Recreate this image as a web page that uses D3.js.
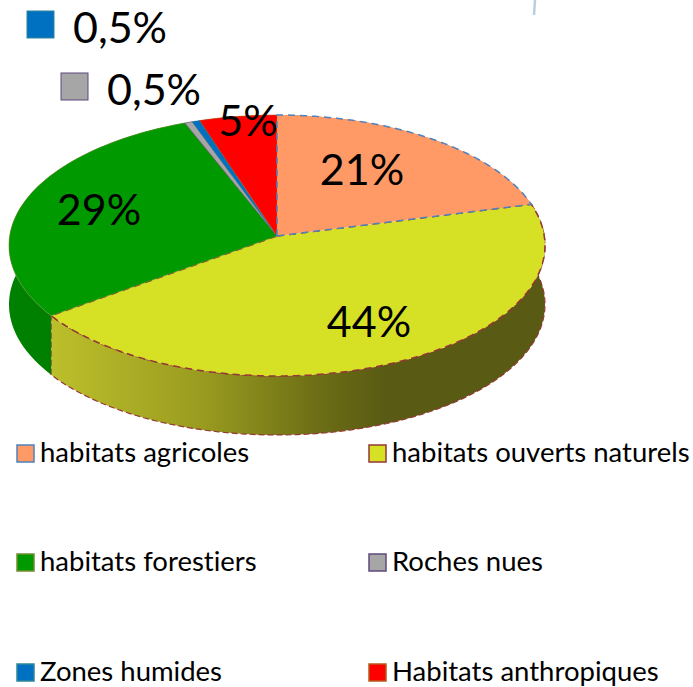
<!DOCTYPE html>
<html>
<head>
<meta charset="utf-8">
<script src="https://cdn.jsdelivr.net/npm/d3@7"></script>
<style>
  html, body { margin: 0; padding: 0; background: #fff; }
  svg { display: block; }
  text { font-family: Lato, "Open Sans", sans-serif; fill: #000; font-variant-ligatures: none; }
</style>
</head>
<body>
<svg id="chart"></svg>
<script>
// Data, in drawing order, clockwise from 12 o'clock
const categories = ["habitats agricoles", "habitats ouverts naturels", "habitats forestiers", "Roches nues", "Zones humides", "Habitats anthropiques"];
const values = [21, 44, 29, 0.5, 0.5, 5];
const valueLabels = ["21%", "44%", "29%", "0,5%", "0,5%", "5%"];
const colors = ["#ff9966", "#d6e125", "#009900", "#a6a6a6", "#0070c0", "#ff0000"];
const edgeColors = ["#4f81bd", "#953735", "#6f8f2f", "#5f497a", "#31859b", "#b85a1f"];
const sideColors = ["#c9764f", "url(#sideYellow)", "#008000", "#808080", "#005a9a", "#c00000"];

// Where each percentage sits on the page
const labelX = [362, 369, 99, 154, 120, 248];
const labelY = [185, 337, 225, 105, 43, 136];

// Legend cells, in the same order as categories
const legendX = [17, 369, 17, 369, 17, 369];
const legendY = [445, 445, 554, 554, 664, 664];

// Constants
const width = 693;
const height = 687;
const cx = 277;
const cy = 236;
const rx = 267.3;
const ry = 129.8;
const tilt = 0.0728;  // perspective, back of the pie is smaller
const depth = 59;

const svg = d3.select("#chart")
  .attr("width", width)
  .attr("height", height);

const defs = svg.append("defs");
const grad = defs.append("linearGradient")
  .attr("id", "sideYellow")
  .attr("gradientUnits", "userSpaceOnUse")
  .attr("x1", 52).attr("x2", 545).attr("y1", 0).attr("y2", 0);
grad.append("stop").attr("offset", "0").attr("stop-color", "#bcbf2b");
grad.append("stop").attr("offset", "0.3").attr("stop-color", "#9a9c20");
grad.append("stop").attr("offset", "0.55").attr("stop-color", "#6b6c15");
grad.append("stop").attr("offset", "0.68").attr("stop-color", "#595a13");
grad.append("stop").attr("offset", "1").attr("stop-color", "#595a13");

// Project an angle of the pie onto the tilted disc
function project(angle, shift) {
  const X = Math.sin(angle);
  const Y = -Math.cos(angle);
  const w = 1 - tilt * Y;
  return [cx + rx * X / w, cy + ry * Y / w + (shift || 0)];
}

function arcPoints(a0, a1, shift) {
  return d3.range(0, 61).map(i => project(a0 + (a1 - a0) * i / 60, shift));
}

const line = d3.line();
const pie = d3.pie().sort(null).value(d => d)(values);

// Side walls first, the top faces cover what is behind them
svg.append("g").selectAll("path")
  .data(pie)
  .enter().append("path")
  .attr("d", d => line(arcPoints(d.startAngle, d.endAngle, 0)
    .concat(arcPoints(d.startAngle, d.endAngle, depth).reverse())) + "Z")
  .attr("fill", (d, i) => sideColors[i])
  .attr("stroke", (d, i) => i === 1 ? "#953735" : "none")
  .attr("stroke-width", 1.2)
  .attr("stroke-dasharray", "6,3");

// Top faces
const faces = svg.append("g").selectAll("path")
  .data(pie)
  .enter().append("path")
  .attr("d", d => line([[cx, cy]].concat(arcPoints(d.startAngle, d.endAngle, 0))) + "Z")
  .attr("fill", (d, i) => colors[i])
  .attr("stroke", (d, i) => edgeColors[i])
  .attr("stroke-width", (d, i) => i === 0 || i === 1 ? 1.5 : 0.6)
  .attr("stroke-dasharray", (d, i) => i === 0 || i === 1 ? "7,5" : null);

// The blue dashes of the first slice stay on top of its neighbours
faces.filter((d, i) => i === 0).raise();

// Value labels
svg.append("g").selectAll("text")
  .data(valueLabels)
  .enter().append("text")
  .attr("x", (d, i) => labelX[i])
  .attr("y", (d, i) => labelY[i])
  .attr("text-anchor", "middle")
  .style("font-size", "43px")
  .text(d => d);

// Swatches next to the two small labels
const keyIndex = [4, 3];
const keyX = [27, 61];
const keyY = [11, 73];
svg.append("g").selectAll("rect")
  .data(keyIndex)
  .enter().append("rect")
  .attr("x", (d, i) => keyX[i])
  .attr("y", (d, i) => keyY[i])
  .attr("width", 27)
  .attr("height", 27)
  .attr("fill", d => colors[d])
  .attr("stroke", d => edgeColors[d])
  .attr("stroke-width", 1);

// Legend
const legend = svg.append("g").selectAll("g")
  .data(categories)
  .enter().append("g")
  .attr("transform", (d, i) => `translate(${legendX[i]},${legendY[i]})`);

legend.append("rect")
  .attr("width", 17)
  .attr("height", 17)
  .attr("fill", (d, i) => colors[i])
  .attr("stroke", (d, i) => edgeColors[i])
  .attr("stroke-width", 1.5);

legend.append("text")
  .attr("x", 23)
  .attr("y", 17)
  .style("font-size", "27.5px")
  .text(d => d);

// Faint stroke cut off at the top of the picture
svg.append("line")
  .attr("x1", 535).attr("y1", 0)
  .attr("x2", 534).attr("y2", 15)
  .attr("stroke", "#9fb9cc")
  .attr("stroke-width", 2.5)
  .attr("stroke-opacity", 0.7);
</script>
</body>
</html>
